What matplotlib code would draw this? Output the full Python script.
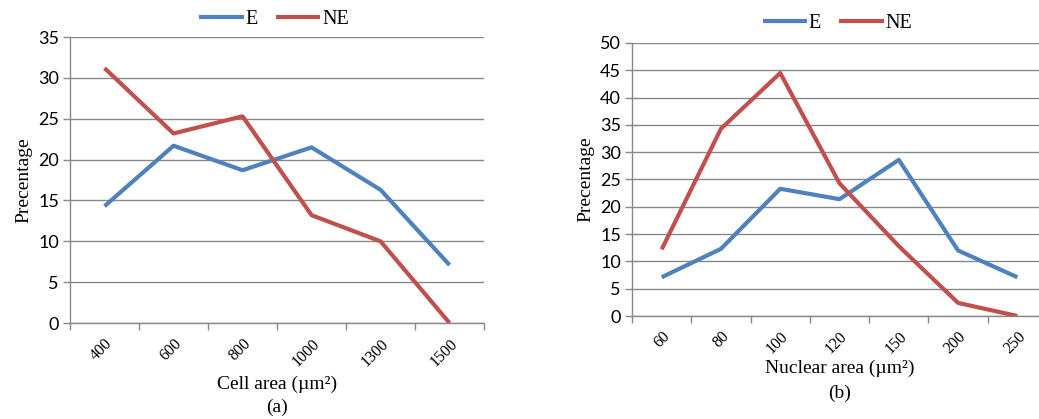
import matplotlib
matplotlib.use("Agg")
import matplotlib.pyplot as plt
import numpy as np

# Data
cell_cats = ["400", "600", "800", "1000", "1300", "1500"]
cell_E = [14.3, 21.7, 18.7, 21.5, 16.3, 7.1]
cell_NE = [31.2, 23.2, 25.3, 13.2, 10.0, 0.0]

nuc_cats = ["60", "80", "100", "120", "150", "200", "250"]
nuc_E = [7.1, 12.3, 23.3, 21.4, 28.6, 12.0, 7.1]
nuc_NE = [12.2, 34.3, 44.5, 24.3, 12.8, 2.4, 0.0]

BLUE = "#4F81BD"
RED = "#C0504D"
GRID = "#888888"
SERIF = "Liberation Serif"
SANS = "Lato"

fig = plt.figure(figsize=(10.39, 4.19), dpi=100)

def setup(ax, cats, E, NE, ymax, xlabel, sub, xlab_y, sub_y, leg_anchor):
    n = len(cats)
    x = np.arange(n)
    ax.plot(x, E, color=BLUE, lw=3.0, label="E", solid_capstyle="butt")
    ax.plot(x, NE, color=RED, lw=3.0, label="NE", solid_capstyle="butt")
    ax.set_xlim(-0.5, n - 0.5)
    ax.set_ylim(0, ymax)
    ax.set_yticks(np.arange(0, ymax + 1, 5))
    ax.yaxis.grid(True, color=GRID, lw=1.0)
    ax.set_axisbelow(True)
    for s in ["top", "right"]:
        ax.spines[s].set_visible(False)
    for s in ["left", "bottom"]:
        ax.spines[s].set_color(GRID)
        ax.spines[s].set_linewidth(1.0)
    ax.set_xticks(x)
    ax.set_xticklabels(cats, rotation=45, ha="right", rotation_mode="anchor",
                       fontfamily=SERIF, fontsize=11.5)
    ax.set_xticks(np.arange(n + 1) - 0.5, minor=True)
    ax.tick_params(axis="x", which="major", length=0, pad=9)
    ax.tick_params(axis="x", which="minor", length=5, color=GRID, width=1.0)
    ax.tick_params(axis="y", length=5, color=GRID, width=1.0, labelsize=13, pad=3)
    for t in ax.get_yticklabels():
        t.set_fontfamily(SANS)
    ax.set_ylabel("Precentage", fontfamily=SERIF, fontsize=14, labelpad=4)
    ax.text(0.5, xlab_y, xlabel, transform=ax.transAxes, ha="center", va="center",
            fontfamily=SERIF, fontsize=14)
    ax.text(0.5, sub_y, sub, transform=ax.transAxes, ha="center", va="center",
            fontfamily=SERIF, fontsize=14)
    ax.legend(loc="center", bbox_to_anchor=leg_anchor, ncol=2, frameon=False,
              prop={"family": SERIF, "size": 14.5}, handlelength=2.2,
              handletextpad=0.1, columnspacing=0.9, borderpad=0)
    return ax

ax1 = fig.add_axes([0.0674, 0.229, 0.3985, 0.6826])
setup(ax1, cell_cats, cell_E, cell_NE, 35, "Cell area (\u00b5m\u00b2)", "(a)",
      -0.215, -0.295, (0.493, 1.06))

ax2 = fig.add_axes([0.6083, 0.2458, 0.3994, 0.6516])
setup(ax2, nuc_cats, nuc_E, nuc_NE, 50, "Nuclear area (\u00b5m\u00b2)", "(b)",
      -0.19, -0.285, (0.495, 1.072))

fig.savefig("out.png", dpi=100)
